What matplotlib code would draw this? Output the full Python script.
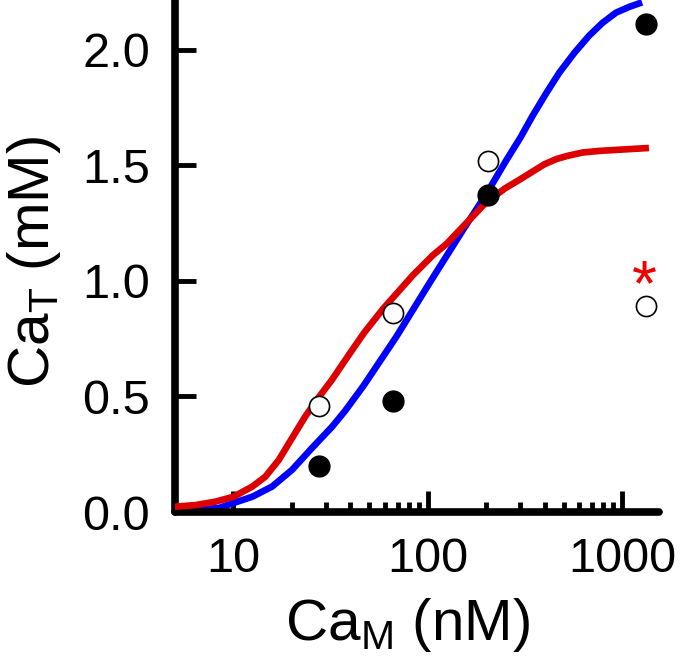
import matplotlib
matplotlib.use('Agg')
import matplotlib.pyplot as plt
from matplotlib.ticker import FixedLocator, NullFormatter

plt.rcParams['font.family'] = ['Liberation Sans', 'DejaVu Sans']
plt.rcParams['mathtext.fontset'] = 'custom'
plt.rcParams['mathtext.rm'] = 'Liberation Sans'
plt.rcParams['mathtext.it'] = 'Liberation Sans'

# measured points (CaM in nM, CaT in mM)
filled_x = [27.5, 66, 205, 1330]
filled_y = [0.20, 0.48, 1.37, 2.11]
open_x = [27.5, 66, 205, 1330]
open_y = [0.46, 0.86, 1.52, 0.89]

# fitted curves
red_x = [5, 6.4, 8.1, 10, 12.5, 14.6, 17.1, 20, 23.4, 27.4, 32, 40, 47, 59, 84, 106, 125,
         150, 200, 250, 300, 350, 400, 460, 520, 625, 760, 1000, 1322]
red_y = [0.023, 0.03, 0.045, 0.066, 0.11, 0.153, 0.225, 0.319, 0.413, 0.495, 0.57, 0.69, 0.775, 0.88, 1.025, 1.11, 1.16,
         1.23, 1.34, 1.40, 1.44, 1.475, 1.505, 1.527, 1.54, 1.555, 1.562, 1.568, 1.574]
blue_x = [5, 8.4, 10, 12.5, 15.8, 20, 25.3, 32.1, 37.5, 46.6, 69, 102, 152, 200, 253, 300, 347,
          406, 475, 568, 676, 793, 930, 1087, 1222]
blue_y = [0.005, 0.017, 0.039, 0.066, 0.11, 0.182, 0.276, 0.368, 0.437, 0.545, 0.759, 0.99, 1.221, 1.375, 1.52, 1.62, 1.715,
          1.81, 1.90, 1.986, 2.06, 2.116, 2.16, 2.185, 2.20]

star_x, star_y = 1300, 0.97

x_major = [10, 100, 1000]
x_minor = [20, 30, 40, 50, 60, 70, 80, 90, 200, 300, 400, 500, 600, 700, 800, 900]
y_ticks = [0, 0.5, 1.0, 1.5, 2.0]

fig = plt.figure(figsize=(6.83, 6.58), dpi=100)
ax = fig.add_axes([175/683, 1 - 512/658, (659 - 175)/683, 512/658])

ax.plot(blue_x, blue_y, color='#0000ff', lw=4.8, solid_joinstyle='round', zorder=2)
ax.plot(red_x, red_y, color='#dd0000', lw=4.8, solid_joinstyle='round', zorder=3)
ax.plot(filled_x, filled_y, 'o', ms=15, color='black', zorder=4)
ax.plot(open_x, open_y, 'o', ms=14.5, mfc='white', mec='black', mew=1.2, zorder=4)
ax.text(star_x, star_y, '*', color='#ee0000', fontsize=46, ha='center', va='center')

ax.set_xscale('log')
ax.set_xlim(5, 1550)
ax.set_ylim(0, 2.215)

for side in ['top', 'right']:
    ax.spines[side].set_visible(False)
for side in ['left', 'bottom']:
    ax.spines[side].set_linewidth(5.5)
    ax.spines[side].set_capstyle('round')

ax.xaxis.set_major_locator(FixedLocator(x_major))
ax.set_xticklabels([str(v) for v in x_major])
ax.xaxis.set_minor_locator(FixedLocator(x_minor))
ax.xaxis.set_minor_formatter(NullFormatter())
ax.set_yticks(y_ticks)
ax.set_yticklabels(['%.1f' % v for v in y_ticks])

ax.tick_params(axis='x', which='major', direction='in', length=15, width=3.5, labelsize=35, pad=18)
ax.tick_params(axis='x', which='minor', direction='in', length=7.5, width=3.5)
ax.tick_params(axis='y', which='major', direction='in', length=15, width=3.5, labelsize=35, pad=18)

ax.set_xlabel('Ca$_\\mathrm{M}$ (nM)', fontsize=42)
ax.set_ylabel('Ca$_\\mathrm{T}$ (mM)', fontsize=42)
ax.xaxis.set_label_coords(0.481, -0.165)
ax.yaxis.set_label_coords(-0.232, 0.488)

fig.savefig('out.png', dpi=100)
